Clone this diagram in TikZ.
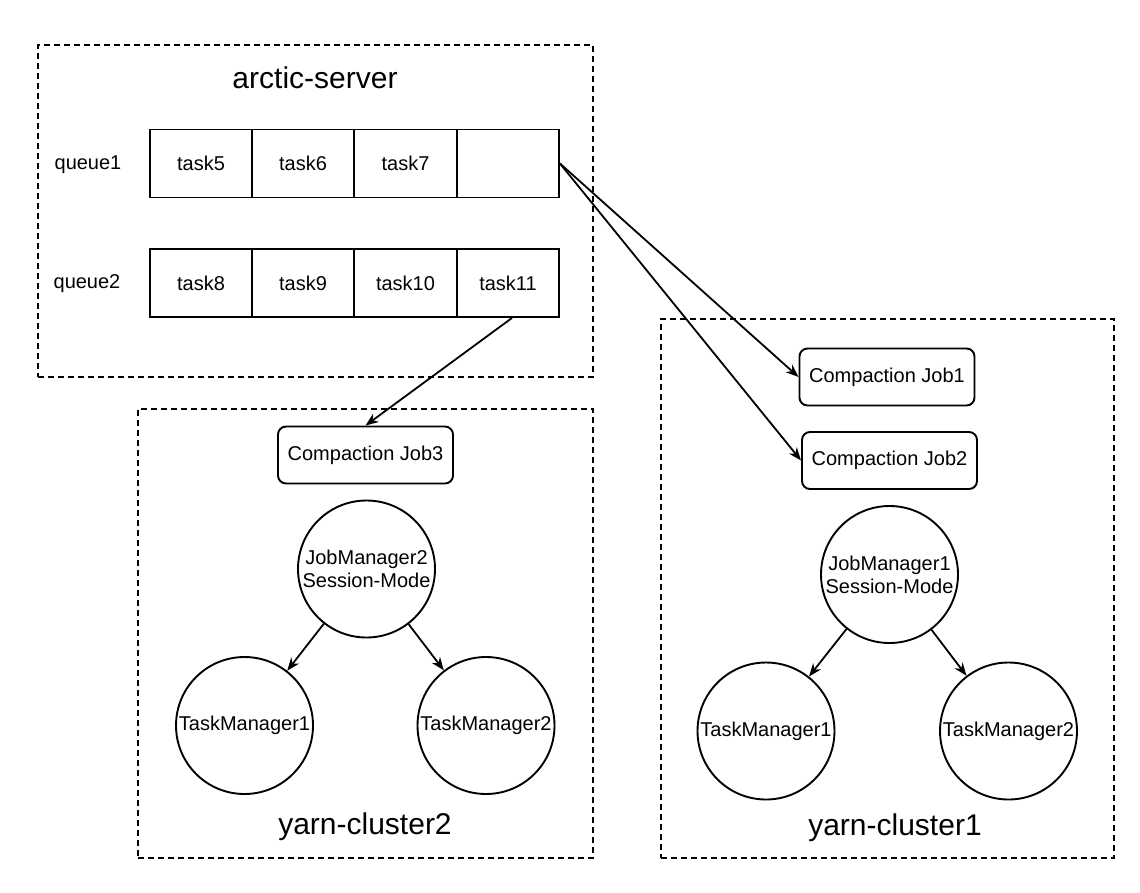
\documentclass[tikz,border=0pt]{standalone}
\usepackage{fontspec}
\setmainfont{Liberation Sans}
\usetikzlibrary{arrows.meta}
\begin{document}
\begin{tikzpicture}[x=1pt,y=-1pt,
  every node/.style={font=\fontsize{20}{23}\selectfont},
  cluster/.style={draw, dash pattern=on 6pt off 4pt, line width=1.6pt, inner sep=0pt},
  cell/.style={draw, line width=1.9pt, minimum width=102pt, minimum height=68pt, inner sep=0pt},
  job/.style={draw, line width=1.9pt, rounded corners=8pt, minimum width=175pt, minimum height=57pt, inner sep=0pt},
  mgr/.style={draw, circle, line width=1.9pt, minimum size=137pt, inner sep=0pt, align=center},
  title/.style={font=\fontsize{30}{36}\selectfont, anchor=mid},
  qlabel/.style={anchor=mid},
  arr/.style={-{Stealth[length=13pt,width=10pt]}, line width=1.8pt}
]
\useasboundingbox (0,0) rectangle (1140,892);

% frames
\node[cluster, minimum width=555pt, minimum height=332pt] (srv) at (315.5,211) {};
\node[cluster, minimum width=455pt, minimum height=449pt] (yc2) at (365.5,633.5) {};
\node[cluster, minimum width=453pt, minimum height=539pt] (yc1) at (887.5,588.5) {};

% titles
\node[title] (tsrv) at (315,86) {arctic-server};
\node[title] (tyc2) at (365,832) {yarn-cluster2};
\node[title] (tyc1) at (895,833) {yarn-cluster1};

% queues
\node[qlabel] (q1) at (88,167) {queue1};
\node[qlabel] (q2) at (87,286) {queue2};

\node[cell] (c11) at (201,163.5) {task5};
\node[cell] (c12) at (303,163.5) {task6};
\node[cell] (c13) at (405.5,163.5) {task7};
\node[cell] (c14) at (508,163.5) {};

\node[cell] (c21) at (201,283) {task8};
\node[cell] (c22) at (303,283) {task9};
\node[cell] (c23) at (405.5,283) {task10};
\node[cell] (c24) at (508,283) {task11};

% jobs
\node[job] (job1) at (887,377) {Compaction Job1};
\node[job] (job2) at (889.5,460.5) {Compaction Job2};
\node[job] (job3) at (365.5,455) {Compaction Job3};

% managers cluster2
\node[mgr] (jm2) at (366.5,569) {JobManager2\\Session-Mode};
\node[mgr] (tm21) at (244.5,725.5) {TaskManager1};
\node[mgr] (tm22) at (486,725.5) {TaskManager2};

% managers cluster1
\node[mgr] (jm1) at (889.5,574.5) {JobManager1\\Session-Mode};
\node[mgr] (tm11) at (766,731) {TaskManager1};
\node[mgr] (tm12) at (1008.5,731) {TaskManager2};

% connectors
\draw[arr] (c14.east) -- (job1.west);
\draw[arr] (c14.east) -- (job2.west);
\draw[arr] ([xshift=4pt]c24.south) -- (job3.north);
\draw[arr] (jm2) -- (tm21);
\draw[arr] (jm2) -- (tm22);
\draw[arr] (jm1) -- (tm11);
\draw[arr] (jm1) -- (tm12);
\end{tikzpicture}
\end{document}
